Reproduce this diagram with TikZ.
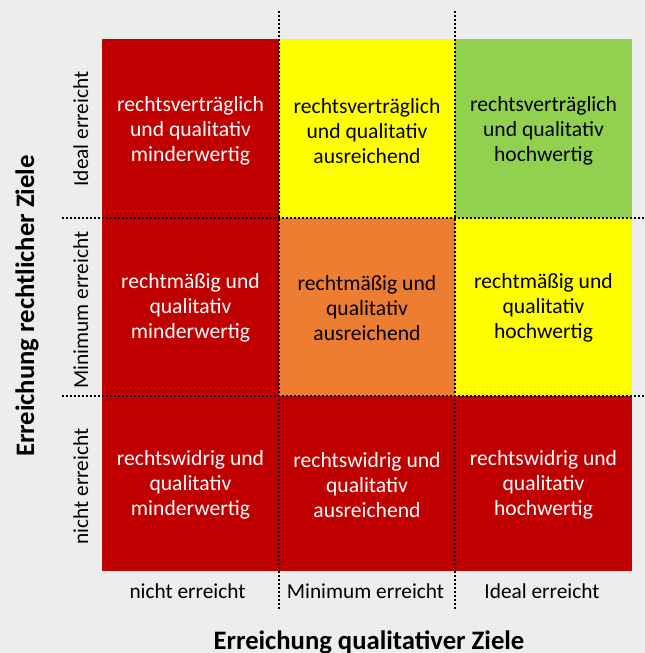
\documentclass[tikz,border=0pt]{standalone}
\usepackage{fontspec}
\setmainfont{Carlito}
\definecolor{bg}{HTML}{EDEDED}
\definecolor{cred}{HTML}{C00000}
\definecolor{cyellow}{HTML}{FFFF00}
\definecolor{cgreen}{HTML}{92D050}
\definecolor{corange}{HTML}{ED7D31}
\tikzset{
  celltext/.style={align=center, font=\fontsize{16.2}{18.75}\selectfont, inner sep=0pt},
  whitetext/.style={celltext, text=white},
  blacktext/.style={celltext, text=black},
  ticklabel/.style={font=\fontsize{16}{19}\selectfont, inner sep=0pt},
  axislabel/.style={font=\fontsize{20}{24}\selectfont\bfseries, inner sep=0pt},
  dotline/.style={black, line width=1.9pt, dash pattern=on 1.6pt off 1.4pt},
}
\begin{document}
\begin{tikzpicture}[x=0.75pt, y=-0.75pt]
\useasboundingbox (0,0) rectangle (645,653);
\fill[bg] (0,0) rectangle (645,653);
% cells
\fill[cred]    (102,39)  rectangle (279,218);
\fill[cyellow] (279,39)  rectangle (455,218);
\fill[cgreen]  (455,39)  rectangle (632,218);
\fill[cred]    (102,218) rectangle (279,396);
\fill[corange] (279,218) rectangle (455,396);
\fill[cyellow] (455,218) rectangle (632,396);
\fill[cred]    (102,396) rectangle (279,571);
\fill[cred]    (279,396) rectangle (455,571);
\fill[cred]    (455,396) rectangle (632,571);
% cell texts
\node[whitetext] (t11) at (190.5,131) {rechtsverträglich\\und qualitativ\\minderwertig};
\node[blacktext] (t12) at (367,131) {rechtsverträglich\\und qualitativ\\ausreichend};
\node[blacktext] (t13) at (543.5,131) {rechtsverträglich\\und qualitativ\\hochwertig};
\node[whitetext] (t21) at (190.5,308) {rechtmäßig und\\qualitativ\\minderwertig};
\node[blacktext] (t22) at (367,308) {rechtmäßig und\\qualitativ\\ausreichend};
\node[blacktext] (t23) at (543.5,308) {rechtmäßig und\\qualitativ\\hochwertig};
\node[whitetext] (t31) at (190.5,485) {rechtswidrig und\\qualitativ\\minderwertig};
\node[whitetext] (t32) at (367,485) {rechtswidrig und\\qualitativ\\ausreichend};
\node[whitetext] (t33) at (543.5,485) {rechtswidrig und\\qualitativ\\hochwertig};
% dotted lines
\draw[dotline] (279,11) -- (279,610);
\draw[dotline] (455,11) -- (455,610);
\draw[dotline] (62,218) -- (645,218);
\draw[dotline] (62,396) -- (645,396);
% tick labels
\node[ticklabel, anchor=base] (bx1) at (187.5,598) {nicht erreicht};
\node[ticklabel, anchor=base] (bx2) at (365.5,598) {Minimum erreicht};
\node[ticklabel, anchor=base] (bx3) at (542,598) {Ideal erreicht};
\node[ticklabel, anchor=base, rotate=90] (ly1) at (88,129) {Ideal erreicht};
\node[ticklabel, anchor=base, rotate=90] (ly2) at (88,310) {Minimum erreicht};
\node[ticklabel, anchor=base, rotate=90] (ly3) at (88,486.5) {nicht erreicht};
% axis labels
\node[axislabel, anchor=base] (xlab) at (369,649) {Erreichung qualitativer Ziele};
\node[axislabel, anchor=base, rotate=90] (ylab) at (34,306) {Erreichung rechtlicher Ziele};
\end{tikzpicture}
\end{document}
